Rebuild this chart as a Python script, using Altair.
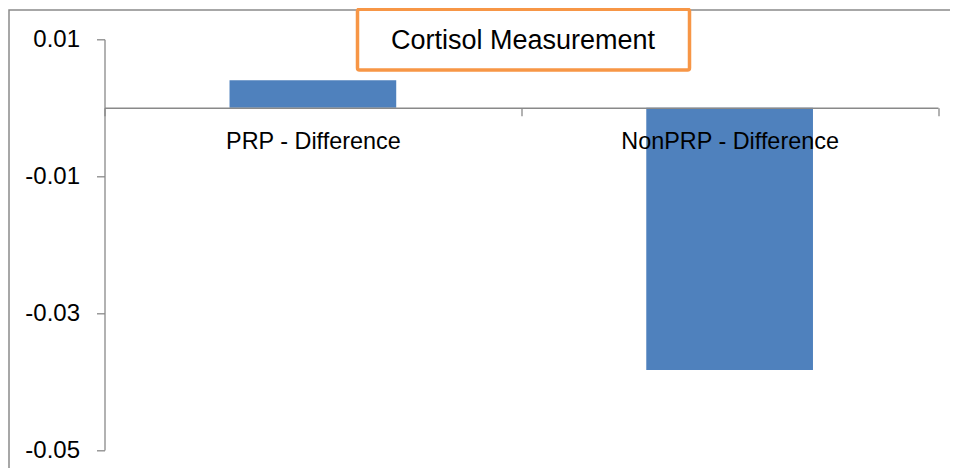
import altair as alt
import pandas as pd

# ---- data ----
categories = ["PRP - Difference", "NonPRP - Difference"]
values = [0.0040, -0.0383]
y_ticks = [0.01, -0.01, -0.03, -0.05]
y_domain = [-0.05, 0.01]
title_text = ["Cortisol Measurement"]

# ---- layout / style ----
W, H = 833.5, 410.7
zero_y = H * (y_domain[1] - 0) / (y_domain[1] - y_domain[0])
AX = "#898989"
FONT = "Liberation Sans"

df = pd.DataFrame({"category": categories, "value": values})

x_enc = alt.X(
    "category:N",
    sort=categories,
    scale=alt.Scale(paddingInner=0, paddingOuter=0),
    axis=alt.Axis(
        title=None, orient="bottom", offset=-(H - zero_y), tickBand="extent",
        tickSize=8, tickColor=AX, tickWidth=1.3, domainColor=AX, domainWidth=1.3,
        labelFont=FONT, labelFontSize=23.4, labelColor="black", labelAngle=0,
        labelPadding=15, labelLimit=0, grid=False, zindex=1,
    ),
)
y_enc = alt.Y(
    "value:Q",
    scale=alt.Scale(domain=y_domain, nice=False, zero=False),
    axis=alt.Axis(
        title=None, values=y_ticks, labelExpr="'' + datum.value",
        tickSize=8, tickColor=AX, tickWidth=1.3, domainColor=AX, domainWidth=1.3,
        labelFont=FONT, labelFontSize=24, labelColor="black", labelPadding=17,
        grid=False, zindex=1,
    ),
)

border = alt.Chart(pd.DataFrame({"k": [0]})).mark_rect(
    filled=False, stroke="#8a8a8a", strokeWidth=1.5
).encode(
    x=alt.value(-95.5), x2=alt.value(W + 100), y=alt.value(-29.3), y2=alt.value(H + 100)
)

bars = alt.Chart(df).mark_bar(color="#4F81BD", width=alt.RelativeBandSize(0.4)).encode(
    x=x_enc, y=y_enc, y2=alt.datum(0)
)

title_df = pd.DataFrame({"t": title_text})
title_box = alt.Chart(title_df).mark_rect(
    fill="white", stroke="#F79646", strokeWidth=3.5, cornerRadius=2
).encode(
    x=alt.value(253), x2=alt.value(585), y=alt.value(-30), y2=alt.value(30.6)
)
title_txt = alt.Chart(title_df).mark_text(
    font=FONT, fontSize=27, color="black", align="center", baseline="alphabetic"
).encode(x=alt.value(418.5), y=alt.value(10), text="t:N")

chart = alt.layer(border, bars, title_box, title_txt).properties(
    width=W, height=H,
    padding={"left": 96.5, "top": 31.3, "right": 12, "bottom": 18},
    autosize=alt.AutoSizeParams(type="none"),
).configure(background="white", view=alt.ViewConfig(stroke=None))

chart.save("out.html", embed_options={"renderer": "svg", "actions": False})
